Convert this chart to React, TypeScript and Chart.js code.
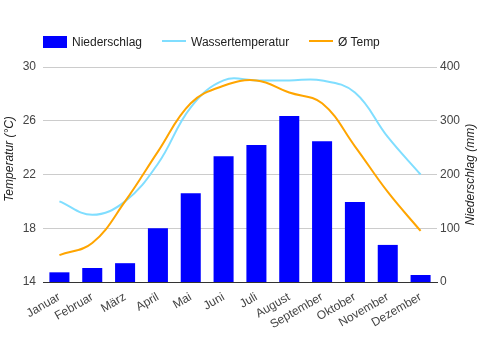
import React, { useEffect, useRef } from "react";
import { Chart, registerables } from "chart.js";

Chart.register(...registerables);

const months = ["Januar", "Februar", "März", "April", "Mai", "Juni", "Juli", "August", "September", "Oktober", "November", "Dezember"];
const precipitation = [18, 26, 35, 100, 165, 234, 255, 309, 262, 149, 69, 13];
const waterTemp = [20, 19, 20, 22.8, 27, 29, 29, 29, 29, 28.1, 24.8, 22];
const avgTemp = [16, 16.9, 20, 23.7, 27.3, 28.6, 29, 28.1, 27.3, 24.1, 20.7, 17.8];
const tempTicks = [14, 18, 22, 26, 30];
const precipTicks = [0, 100, 200, 300, 400];

const legendLabels = ["Niederschlag", "Wassertemperatur", "Ø Temp"];
const leftTitle = "Temperatur (°C)";
const rightTitle = "Niederschlag (mm)";

const BLUE = "#0000ff";
const CYAN = "#80deff";
const ORANGE = "#ffa500";
const FONT = '"Liberation Sans", Arial, sans-serif';

const titlePlugin = {
  id: "axisTitles",
  afterDraw(chart: any) {
    const { ctx, chartArea } = chart;
    ctx.save();
    ctx.font = `italic 12px ${FONT}`;
    ctx.fillStyle = "#222";
    ctx.textAlign = "center";
    ctx.textBaseline = "middle";
    ctx.save();
    ctx.translate(chartArea.left - 33, chartArea.top + 92);
    ctx.rotate(-Math.PI / 2);
    ctx.fillText(leftTitle, 0, 0);
    ctx.restore();
    ctx.save();
    ctx.translate(chartArea.right + 34, (chartArea.top + chartArea.bottom) / 2);
    ctx.rotate(-Math.PI / 2);
    ctx.fillText(rightTitle, 0, 0);
    ctx.restore();
    ctx.restore();
  },
};

export default function App() {
  const ref = useRef<HTMLCanvasElement>(null);
  useEffect(() => {
    document.body.style.margin = "0";
    const chart = new Chart(ref.current as HTMLCanvasElement, {
      type: "bar",
      data: {
        labels: months,
        datasets: [
          {
            type: "bar",
            label: legendLabels[0],
            data: precipitation,
            backgroundColor: BLUE,
            yAxisID: "y1",
            order: 3,
            barPercentage: 0.61,
            categoryPercentage: 1,
          },
          {
            type: "line",
            label: legendLabels[1],
            data: waterTemp,
            borderColor: CYAN,
            borderWidth: 2,
            pointRadius: 0,
            tension: 0.4,
            yAxisID: "y",
            order: 2,
          },
          {
            type: "line",
            label: legendLabels[2],
            data: avgTemp,
            borderColor: ORANGE,
            borderWidth: 2,
            pointRadius: 0,
            tension: 0.4,
            yAxisID: "y",
            order: 1,
          },
        ] as any,
      },
      options: {
        animation: false,
        responsive: false,
        layout: { padding: { top: 67, left: 0, right: 0, bottom: 0 } },
        plugins: { legend: { display: false }, tooltip: { enabled: false } },
        scales: {
          x: {
            grid: { display: false },
            border: { color: "#333", width: 1 },
            ticks: {
              color: "#444",
              font: { size: 12, family: FONT },
              minRotation: 30,
              maxRotation: 30,
              autoSkip: false,
              padding: 0,
            },
            afterFit(s: any) {
              s.height = 68;
            },
          },
          y: {
            position: "left",
            min: tempTicks[0],
            max: tempTicks[tempTicks.length - 1],
            afterBuildTicks(s: any) {
              s.ticks = tempTicks.map((v) => ({ value: v }));
            },
            grid: { color: "#cccccc", drawTicks: false },
            border: { display: false },
            ticks: { color: "#444", font: { size: 12, family: FONT }, padding: 7 },
            afterFit(s: any) {
              s.width = 43;
            },
          },
          y1: {
            position: "right",
            min: precipTicks[0],
            max: precipTicks[precipTicks.length - 1],
            afterBuildTicks(s: any) {
              s.ticks = precipTicks.map((v) => ({ value: v }));
            },
            grid: { display: false, drawTicks: false },
            border: { display: false },
            ticks: { color: "#444", font: { size: 12, family: FONT }, padding: 3 },
            afterFit(s: any) {
              s.width = 44;
            },
          },
        },
      } as any,
      plugins: [titlePlugin],
    });
    return () => chart.destroy();
  }, []);

  const textStyle: React.CSSProperties = {
    position: "absolute",
    top: 34,
    font: `12px ${FONT}`,
    color: "#222",
    lineHeight: "16px",
    whiteSpace: "nowrap",
  };

  return (
    <div style={{ position: "absolute", left: 0, top: 0, width: 481, height: 350, background: "#fff" }}>
      <canvas ref={ref} width={481} height={350} style={{ width: 481, height: 350, display: "block" }} />
      <div style={{ position: "absolute", left: 43, top: 36, width: 24, height: 12, background: BLUE }} />
      <span style={{ ...textStyle, left: 72 }}>{legendLabels[0]}</span>
      <div style={{ position: "absolute", left: 162, top: 40, width: 24, height: 2, background: CYAN }} />
      <span style={{ ...textStyle, left: 191 }}>{legendLabels[1]}</span>
      <div style={{ position: "absolute", left: 309, top: 40, width: 24, height: 2, background: ORANGE }} />
      <span style={{ ...textStyle, left: 338 }}>{legendLabels[2]}</span>
    </div>
  );
}
